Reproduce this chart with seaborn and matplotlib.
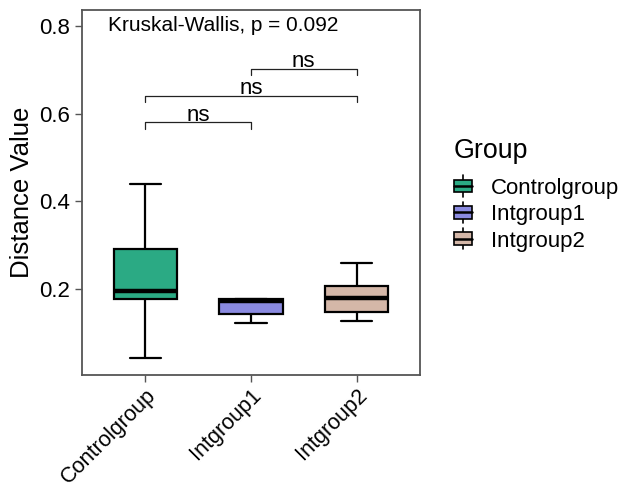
import numpy as np
import pandas as pd
import matplotlib
matplotlib.use("Agg")
import matplotlib.pyplot as plt
import seaborn as sns
from matplotlib.legend_handler import HandlerBase
from matplotlib.patches import Rectangle, Patch
from matplotlib.lines import Line2D

# five-number summaries (min, q1, median, q3, max)
groups = ["Controlgroup", "Intgroup1", "Intgroup2"]
control_vals = [0.042, 0.177, 0.196, 0.291, 0.439]
int1_vals = [0.122, 0.143, 0.173, 0.178, 0.178]
int2_vals = [0.126, 0.147, 0.179, 0.208, 0.259]
colors = ["#2BAA84", "#8A8AE0", "#D4B7A8"]

# pairwise comparisons: (group a, group b, bracket height, label)
comparisons = [(0, 1, 0.580, "ns"), (0, 2, 0.641, "ns"), (1, 2, 0.703, "ns")]
kw_label = "Kruskal-Wallis, p = 0.092"

df = pd.DataFrame({
    "Group": np.repeat(groups, 5),
    "value": control_vals + int1_vals + int2_vals,
})

sns.set_style("white")
plt.rcParams["font.family"] = ["Liberation Sans", "DejaVu Sans"]
plt.rcParams["text.color"] = "black"
plt.rcParams["axes.labelcolor"] = "black"

fig = plt.figure(figsize=(6.18, 4.87), dpi=100)
ax = fig.add_axes([0.1327, 0.230, 0.5469, 0.7495])

sns.boxplot(data=df, x="Group", y="value", hue="Group", palette=colors,
            saturation=1, width=0.6, whis=(0, 100), linecolor="black",
            linewidth=1.6, medianprops=dict(linewidth=3.2),
            capprops=dict(linewidth=1.6), showfliers=False, legend=False, ax=ax)

# comparison brackets
tip = 0.015
for a, b, h, lab in comparisons:
    ax.plot([a, a, b, b], [h - tip, h, h, h - tip], color="#222222", lw=0.9)
    ax.text((a + b) / 2, h + 0.003, lab, ha="center", va="baseline", fontsize=16)

ax.text(-0.35, 0.80, kw_label, ha="left", va="center", fontsize=15)

ax.set_xlim(-0.6, 2.6)
ax.set_ylim(0.004, 0.8365)
ax.set_yticks([0.2, 0.4, 0.6, 0.8])
ax.set_yticklabels(["0.2", "0.4", "0.6", "0.8"])
ax.set_xlabel("")
ax.set_ylabel("Distance Value", fontsize=18.5)
ax.tick_params(axis="both", bottom=True, left=True, labelsize=16, length=5,
               width=1, color="#555555", labelcolor="black")
ax.tick_params(axis="x", labelsize=15.6, pad=2)
plt.setp(ax.get_xticklabels(), rotation=45, ha="right", rotation_mode="anchor")
for s in ax.spines.values():
    s.set_color("#555555")
    s.set_linewidth(1.3)


class BoxHandler(HandlerBase):
    def create_artists(self, legend, orig_handle, xdescent, ydescent,
                       width, height, fontsize, trans):
        x0, y0 = -xdescent, -ydescent
        wh = Line2D([x0 + width / 2] * 2, [y0 - height * 0.25, y0 + height * 1.25],
                    color="black", lw=1.2, transform=trans)
        rect = Rectangle((x0, y0 + height * 0.05), width, height * 0.9,
                         facecolor=orig_handle.get_facecolor(), edgecolor="black",
                         lw=1.2, transform=trans)
        med = Line2D([x0, x0 + width], [y0 + height / 2] * 2, color="black",
                     lw=1.8, transform=trans)
        return [wh, rect, med]


handles = [Patch(facecolor=c, edgecolor="black") for c in colors]
leg = fig.legend(handles, groups, title="Group", loc="center left",
                 bbox_to_anchor=(0.702, 0.60), frameon=False, fontsize=16,
                 title_fontsize=19.3, handlelength=0.8, handleheight=0.6,
                 handletextpad=0.85, labelspacing=0.24,
                 handler_map={Patch: BoxHandler()})
leg._legend_box.align = "left"
leg._legend_box.sep = 10

fig.savefig("out.png", dpi=100)
